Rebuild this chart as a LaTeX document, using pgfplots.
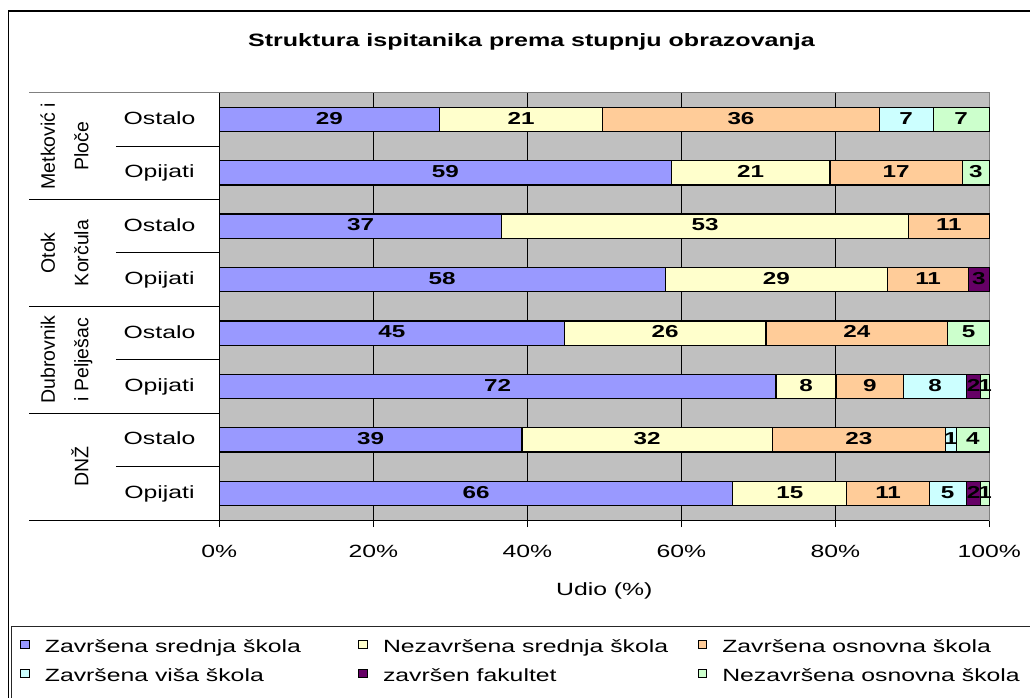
\documentclass[border=0pt]{standalone}
\usepackage{pgfplots}
\pgfplotsset{compat=1.18}
\usepackage{pgfplotstable}
\usepackage{fontspec}
\setmainfont{Liberation Sans}[FakeStretch=1.4]
\newfontfamily\rotfont{Liberation Sans}
\definecolor{cA}{HTML}{9999FF}
\definecolor{cB}{HTML}{FFFFCC}
\definecolor{cC}{HTML}{FFCC99}
\definecolor{cD}{HTML}{CCFFFF}
\definecolor{cE}{HTML}{660066}
\definecolor{cF}{HTML}{CCFFCC}
\definecolor{plotbg}{HTML}{C0C0C0}
\definecolor{framegray}{HTML}{808080}

\pgfplotstableread{
y a b c d e f la lb lc ld le lf
1 28.6 21.2 35.9 7.0 0 7.3 29 21 36 7 0 7
2 58.7 20.6 17.2 0 0 3.5 59 21 17 0 0 3
3 36.7 52.8 10.5 0 0 0 37 53 11 0 0 0
4 57.9 28.9 10.5 0 2.7 0 58 29 11 0 3 0
5 44.8 26.2 23.6 0 0 5.4 45 26 24 0 0 5
6 72.3 7.8 8.8 8.1 1.9 1.1 72 8 9 8 2 1
7 39.3 32.5 22.5 1.4 0 4.3 39 32 23 1 0 4
8 66.7 14.8 10.7 4.8 1.9 1.1 66 15 11 5 2 1
}\datatable

\newcommand{\nfont}{\fontsize{17.7}{20}\selectfont}
\newcommand{\lstrut}{\rule[-4pt]{0pt}{17.5pt}}

\begin{document}
\begin{tikzpicture}[x=1pt,y=1pt]
\useasboundingbox (0,0) rectangle (1030,697);
\clip (0,0) rectangle (1030,697);
\fill[white] (0,0) rectangle (1030,697);
\draw[black, line width=1.3pt] (8.3,686) rectangle (1100,-50);
\draw[black!85, line width=1pt] (11.5,70.3) rectangle (1100,-50);
\node[anchor=base, font=\bfseries\fontsize{17.9}{20}\selectfont] at (531.5,650.3) {Struktura ispitanika prema stupnju obrazovanja};

\begin{axis}[
  at={(219.3pt,177pt)}, anchor=south west,
  scale only axis, width=770pt, height=427.3pt,
  xbar stacked, bar width=24.3pt,
  xmin=0, xmax=100, ymin=0.5, ymax=8.5, y dir=reverse,
  axis background/.style={fill=plotbg},
  axis line style={draw=framegray, line width=1pt},
  xtick={0,20,40,60,80,100},
  xticklabels={0\%,20\%,40\%,60\%,80\%,100\%},
  xtick pos=left,
  tick align=outside, major tick length=7pt,
  xtick style={draw=black, line width=1pt},
  xmajorgrids, grid style={draw=black, line width=0.9pt},
  ytick={1,2,3,4,5,6,7,8},
  yticklabels={Ostalo,Opijati,Ostalo,Opijati,Ostalo,Opijati,Ostalo,Opijati},
  ytick style={draw=none},
  tick label style={font=\nfont},
  yticklabel style={anchor=base, xshift=-52.8pt, yshift=-5pt},
  xticklabel style={anchor=base, yshift=-30.3pt},
  xlabel={Udio (\%)},
  xlabel style={at={(axis description cs:0.5,0)}, anchor=base, yshift=-75pt, font=\nfont},
  clip=false,
  every axis plot/.append style={draw=black, line width=1.2pt},
]
\addplot[fill=cA] table[x=a, y=y] {\datatable};
\addplot[fill=cB] table[x=b, y=y] {\datatable};
\addplot[fill=cC] table[x=c, y=y] {\datatable};
\addplot[fill=cD] table[x=d, y=y] {\datatable};
\addplot[fill=cE] table[x=e, y=y] {\datatable};
\addplot[fill=cF] table[x=f, y=y] {\datatable};

\draw[black, line width=1.5pt] (axis cs:0,0.5) -- (axis cs:0,8.5);
\draw[black, line width=1pt] (axis cs:0,8.5) -- (axis cs:100,8.5);
\draw[framegray, line width=1pt] ([xshift=-190pt]axis cs:0,0.5) -- (axis cs:0,0.5);
\draw[black, line width=1pt] ([xshift=-190pt]axis cs:0,2.5) -- (axis cs:0,2.5);
\draw[black, line width=1pt] ([xshift=-190pt]axis cs:0,4.5) -- (axis cs:0,4.5);
\draw[black, line width=1pt] ([xshift=-190pt]axis cs:0,6.5) -- (axis cs:0,6.5);
\draw[black, line width=1pt] ([xshift=-190pt]axis cs:0,8.5) -- (axis cs:0,8.5);
\draw[black, line width=1pt] ([xshift=-103.3pt]axis cs:0,1.5) -- (axis cs:0,1.5);
\draw[black, line width=1pt] ([xshift=-103.3pt]axis cs:0,3.5) -- (axis cs:0,3.5);
\draw[black, line width=1pt] ([xshift=-103.3pt]axis cs:0,5.5) -- (axis cs:0,5.5);
\draw[black, line width=1pt] ([xshift=-103.3pt]axis cs:0,7.5) -- (axis cs:0,7.5);

\tikzset{grp/.style={rotate=90, anchor=base, inner sep=0pt, font=\rotfont\fontsize{19.5}{22}\selectfont}}
\node[grp] at ([xshift=-164.3pt]axis cs:0,1.5) {Metković i};
\node[grp] at ([xshift=-131pt]axis cs:0,1.5) {Ploče};
\node[grp] at ([xshift=-164.3pt]axis cs:0,3.5) {Otok};
\node[grp] at ([xshift=-131pt]axis cs:0,3.5) {Korčula};
\node[grp] at ([xshift=-164.3pt]axis cs:0,5.5) {Dubrovnik};
\node[grp] at ([xshift=-131pt]axis cs:0,5.5) {i Pelješac};
\node[grp] at ([xshift=-131pt]axis cs:0,7.5) {DNŽ};
\end{axis}

\begin{axis}[
  at={(219.3pt,177pt)}, anchor=south west,
  scale only axis, width=770pt, height=427.3pt,
  xmin=0, xmax=100, ymin=0.5, ymax=8.5, y dir=reverse,
  hide axis, clip=false,
  legend columns=3,
  legend style={
    at={(axis description cs:-0.2586,-0.2733)}, anchor=north west,
    draw=none, fill=none, inner sep=0pt, outer sep=0pt,
    font=\nfont,
    column sep=0pt, row sep=10pt,
    /tikz/every odd column/.style={column sep=13pt},
    cells={anchor=base west, inner sep=0pt},
  },
  legend image code/.code={\draw[#1, draw=black, line width=1pt] (0pt,3.5pt) rectangle (8.7pt,12.1pt);},
  lbl/.style={draw=none, mark=none, point meta=explicit symbolic,
    nodes near coords={\ifnum\pgfplotspointmeta>0 \pgfplotspointmeta\fi},
    every node near coord/.style={anchor=base, yshift=-4.7pt, inner sep=0pt,
      font=\bfseries\fontsize{17.3}{20}\selectfont, text=black}},
]
\addlegendimage{fill=cA}
\addlegendimage{fill=cB}
\addlegendimage{fill=cC}
\addlegendimage{fill=cD}
\addlegendimage{fill=cE}
\addlegendimage{fill=cF}
\addplot[lbl] table[x expr=\thisrow{a}/2, y=y, meta=la] {\datatable};
\addplot[lbl] table[x expr=\thisrow{a}+\thisrow{b}/2, y=y, meta=lb] {\datatable};
\addplot[lbl] table[x expr=\thisrow{a}+\thisrow{b}+\thisrow{c}/2, y=y, meta=lc] {\datatable};
\addplot[lbl] table[x expr=\thisrow{a}+\thisrow{b}+\thisrow{c}+\thisrow{d}/2, y=y, meta=ld] {\datatable};
\addplot[lbl] table[x expr=\thisrow{a}+\thisrow{b}+\thisrow{c}+\thisrow{d}+\thisrow{e}/2, y=y, meta=le] {\datatable};
\addplot[lbl] table[x expr=\thisrow{a}+\thisrow{b}+\thisrow{c}+\thisrow{d}+\thisrow{e}+\thisrow{f}/2, y=y, meta=lf] {\datatable};
\legend{\makebox[311.5pt][l]{\lstrut Završena srednja škola},\makebox[312.5pt][l]{\lstrut Nezavršena srednja škola},\lstrut Završena osnovna škola,\lstrut Završena viša škola,\lstrut završen fakultet,\lstrut Nezavršena osnovna škola}
\end{axis}
\end{tikzpicture}
\end{document}
